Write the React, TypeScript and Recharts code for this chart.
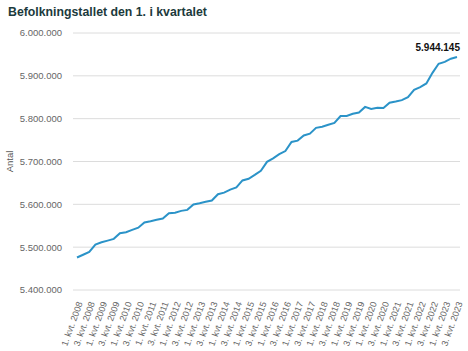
import React from 'react';
import { LineChart, Line, XAxis, YAxis, CartesianGrid, LabelList } from 'recharts';

const years = [2008, 2009, 2010, 2011, 2012, 2013, 2014, 2015, 2016, 2017, 2018, 2019, 2020, 2021, 2022, 2023];
const quarterNames = ['1. kvt.', '2. kvt.', '3. kvt.', '4. kvt.'];
const population = [
  5475791, 5482266, 5489022, 5505995,
  5511451, 5515287, 5519441, 5532531,
  5534738, 5540241, 5545416, 5557709,
  5560628, 5564219, 5566856, 5579204,
  5580516, 5584758, 5587085, 5599665,
  5602628, 5605948, 5608784, 5623501,
  5627235, 5634437, 5639565, 5655750,
  5659715, 5668743, 5678348, 5699220,
  5707251, 5717014, 5724456, 5745526,
  5748769, 5760694, 5764980, 5778570,
  5781190, 5785864, 5789957, 5806015,
  5806081, 5811413, 5814461, 5827463,
  5822763, 5825337, 5824857, 5837213,
  5840045, 5843347, 5850189, 5867320,
  5873420, 5882261, 5907000, 5928172,
  5932654, 5940000, 5944145,
];
const yTicks = [5400000, 5500000, 5600000, 5700000, 5800000, 5900000, 6000000];

const categories: string[] = [];
years.forEach((y) => quarterNames.forEach((q) => categories.push(`${q} ${y}`)));

const data = population.map((v, i) => ({ name: categories[i], value: v }));

const fmt = (n: number) => String(Math.round(n)).replace(/\B(?=(\d{3})+(?!\d))/g, '.');

const FONT = '"Liberation Sans", Arial, Helvetica, sans-serif';

const XTick = (props: any) => {
  const { x, y, payload } = props;
  return (
    <g transform={`translate(${x + 3},${y + 4})`}>
      <text textAnchor="end" transform="rotate(-70)" fontSize={9} fill="#666" fontFamily={FONT} dy={3}>
        {payload.value}
      </text>
    </g>
  );
};

const LastLabel = (props: any) => {
  const { x, y, index, value } = props;
  if (index !== population.length - 1) return null;
  return (
    <text x={x + 3} y={y - 6} textAnchor="end" fontSize={10} fontWeight="bold" fill="#111" fontFamily={FONT}>
      {fmt(value)}
    </text>
  );
};

export default function App() {
  return (
    <div style={{ position: 'absolute', left: 0, top: 0, width: 468, height: 351, background: '#fff' }}>
      <div
        style={{
          position: 'absolute',
          left: 8,
          top: 5,
          fontFamily: FONT,
          fontWeight: 'bold',
          fontSize: 12.3,
          color: '#1c3a3c',
          whiteSpace: 'nowrap',
        }}
      >
        Befolkningstallet den 1. i kvartalet
      </div>
      <LineChart width={468} height={351} data={data} margin={{ top: 33, right: 8, left: 0, bottom: 0 }}>
        <CartesianGrid vertical={false} stroke="#dcdcdc" />
        <XAxis
          dataKey="name"
          interval={1}
          height={61}
          tick={<XTick />}
          tickLine={false}
          axisLine={false}
          padding={{ left: 4, right: 3 }}
        />
        <YAxis
          domain={[5400000, 6000000]}
          ticks={yTicks}
          tickFormatter={fmt}
          width={73}
          tickLine={false}
          axisLine={false}
          tickMargin={5}
          tick={{ fontSize: 9.5, fill: '#666', fontFamily: FONT }}
          label={{ value: 'Antal', angle: -90, position: 'insideLeft', offset: 10, style: { fontSize: 9.5, fill: '#555', fontFamily: FONT, textAnchor: 'middle' } }}
        />
        <Line type="linear" dataKey="value" stroke="#2b93c8" strokeWidth={2} dot={false} isAnimationActive={false}>
          <LabelList dataKey="value" content={<LastLabel />} />
        </Line>
      </LineChart>
    </div>
  );
}
